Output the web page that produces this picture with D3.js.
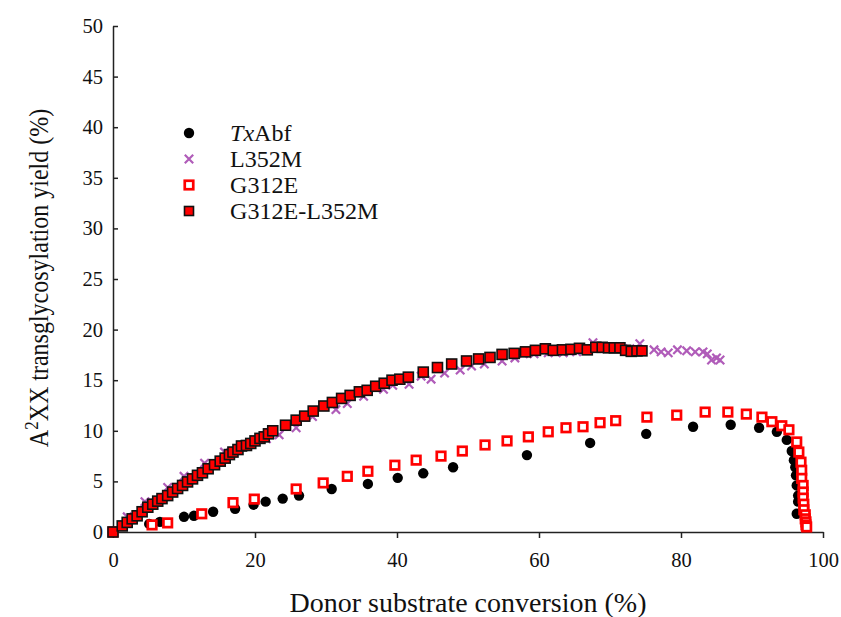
<!DOCTYPE html>
<html><head><meta charset="utf-8">
<script src="https://cdn.jsdelivr.net/npm/d3@7"></script>
<style>body{margin:0;background:#fff}svg{display:block}text{font-family:"Liberation Serif","Times New Roman",serif;fill:#111}</style>
</head><body>
<svg id="c" width="841" height="617"></svg>
<script>
const xTicks = [0,20,40,60,80,100];
const yTicks = [0,5,10,15,20,25,30,35,40,45,50];
const seriesNames = ["TxAbf","L352M","G312E","G312E-L352M"];

const txAbf = [[0,0],[5.1,0.8],[6.6,1.0],[10.0,1.5],[11.4,1.6],[14.1,2.0],[17.2,2.3],[19.8,2.7],[21.5,3.0],[23.9,3.3],[26.2,3.6],[30.8,4.25],[35.9,4.75],[40.1,5.35],[43.7,5.8],[47.9,6.4],[58.3,7.6],[67.2,8.8],[75.1,9.7],[81.7,10.4],[87.0,10.6],[91.0,10.3],[93.5,9.9],[94.9,9.1],[95.6,8.0],[95.9,7.1],[96.1,6.4],[96.2,5.6],[96.3,4.6],[96.5,3.6],[96.5,3.0],[96.3,1.8]];

const l352m = [[0,0],[2.0,1.5],[4.5,3.0],[7.7,4.4],[10.0,5.5],[12.9,6.8],[15.7,7.9],[18.5,8.6],[21.6,9.2],[23.4,9.6],[25.8,10.3],[28.1,11.4],[31.4,12.1],[33.0,12.7],[35.3,13.4],[38.1,14.1],[39.4,14.5],[41.7,14.6],[43.4,15.4],[44.8,15.1],[46.7,15.7],[48.9,16.0],[50.5,16.4],[52.3,16.6],[54.8,16.9],[56.6,17.2],[57.8,17.6],[59.3,17.6],[61.3,17.7],[63.4,17.7],[65.3,17.8],[67.6,18.7],[69.5,18.1],[71.4,18.3],[72.8,18.1],[74.2,18.6],[76.2,18.0],[77.2,17.8],[78.2,17.7],[79.5,18.0],[80.8,17.9],[82.0,17.8],[83.1,17.8],[83.7,17.6],[84.3,17.0],[85.0,17.2],[85.5,17.0]];

const g312e = [[0,0],[5.5,0.7],[7.7,0.9],[12.5,1.8],[16.9,2.9],[19.9,3.25],[25.8,4.25],[29.6,4.85],[33.0,5.5],[35.9,6.0],[39.7,6.6],[42.7,7.1],[46.2,7.5],[49.2,8.0],[52.4,8.6],[55.5,9.0],[58.5,9.4],[61.3,9.9],[63.8,10.3],[66.2,10.4],[68.6,10.8],[70.8,11.0],[75.2,11.35],[79.4,11.55],[83.4,11.85],[86.6,11.85],[89.2,11.65],[91.4,11.35],[92.8,10.9],[94.2,10.5],[95.2,10.1],[96.3,8.9],[96.6,7.9],[96.9,6.9],[97.0,6.1],[97.0,5.3],[97.2,4.6],[97.2,3.95],[97.2,3.35],[97.3,2.75],[97.3,2.2],[97.5,1.7],[97.5,1.3],[97.6,1.0],[97.6,0.7],[97.7,0.5]];

const g312eL352m = [[0,0],[1.3,0.6],[2.0,0.95],[2.7,1.3],[3.4,1.6],[4.1,2.0],[4.9,2.45],[5.6,2.75],[6.3,3.05],[6.9,3.3],[7.7,3.6],[8.4,3.95],[9.1,4.3],[9.8,4.6],[10.5,4.95],[11.2,5.25],[11.9,5.6],[12.6,5.85],[13.4,6.25],[14.3,6.65],[15.1,7.0],[15.8,7.3],[16.4,7.65],[16.9,7.9],[17.6,8.15],[18.1,8.5],[18.8,8.55],[19.4,8.75],[20.0,9.0],[20.7,9.25],[21.3,9.4],[21.9,9.7],[22.5,10.0],[24.3,10.55],[25.8,11.05],[27.0,11.45],[28.2,11.95],[29.7,12.45],[30.9,12.8],[32.2,13.2],[33.4,13.5],[34.7,13.85],[35.8,14.0],[37.0,14.4],[38.2,14.7],[39.3,15.0],[40.4,15.1],[41.6,15.3],[43.7,15.8],[45.7,16.25],[47.7,16.6],[49.8,16.9],[51.5,17.1],[53.1,17.25],[54.8,17.55],[56.5,17.65],[58.1,17.8],[59.5,17.95],[60.9,18.1],[62.0,17.95],[63.3,18.0],[64.5,18.05],[65.7,18.15],[66.8,18.0],[68.0,18.25],[68.9,18.25],[69.8,18.2],[70.6,18.2],[71.4,18.2],[72.2,17.95],[73.0,17.85],[73.8,17.9],[74.5,17.9]];

const svg = d3.select("#c");
const x = d3.scaleLinear().domain([0,100]).range([113,823]);
const y = d3.scaleLinear().domain([0,50]).range([532,26]);
const axisColor = "#222";

// X axis
const gx = svg.append("g").attr("transform","translate(0,532)")
  .call(d3.axisBottom(x).tickValues(xTicks).tickSize(6).tickSizeOuter(0).tickPadding(14));
gx.select(".domain").attr("stroke",axisColor).attr("stroke-width",1.5);
gx.selectAll(".tick line").attr("stroke",axisColor).attr("stroke-width",1.5);
gx.selectAll(".tick text").attr("font-size",20.5).attr("font-family","Liberation Serif").attr("fill","#111");

// Y axis (ticks inside)
const gy = svg.append("g").attr("transform","translate(113,0)")
  .call(d3.axisLeft(y).tickValues(yTicks).tickSize(-5).tickSizeOuter(0).tickPadding(10));
gy.select(".domain").attr("stroke",axisColor).attr("stroke-width",1.5);
gy.selectAll(".tick line").attr("stroke",axisColor).attr("stroke-width",1.5);
gy.selectAll(".tick text").attr("font-size",20.5).attr("font-family","Liberation Serif").attr("fill","#111");

// Titles
svg.append("text").attr("transform","translate(468,612)").attr("text-anchor","middle")
  .attr("font-size",28).text("Donor substrate conversion (%)");
const yt = svg.append("text").attr("transform","translate(48,278) scale(1.15,1) rotate(-90)")
  .attr("text-anchor","middle").attr("font-size",24);
yt.append("tspan").text("A");
yt.append("tspan").attr("dy",-9).attr("font-size",17).text("2");
yt.append("tspan").attr("dy",9).text("XX transglycosylation yield (%)");

// Marker drawers
function dots(g, data){
  g.selectAll("circle").data(data).join("circle")
   .attr("cx",d=>x(d[0])).attr("cy",d=>y(d[1])).attr("r",5.2).attr("fill","#000");
}
function crosses(g, data){
  const s=4.2;
  g.selectAll("path").data(data).join("path")
   .attr("d",d=>{const cx=x(d[0]),cy=y(d[1]);return `M${cx-s},${cy-s}L${cx+s},${cy+s}M${cx-s},${cy+s}L${cx+s},${cy-s}`;})
   .attr("stroke","#b05cb9").attr("stroke-width",2.2).attr("fill","none");
}
function hollow(g, data){
  const s=8.5;
  g.selectAll("rect").data(data).join("rect")
   .attr("x",d=>x(d[0])-s/2).attr("y",d=>y(d[1])-s/2).attr("width",s).attr("height",s)
   .attr("fill","#fff").attr("stroke","#ff0000").attr("stroke-width",2.7);
}
function filled(g, data){
  const s=10;
  g.selectAll("rect").data(data).join("rect")
   .attr("x",d=>x(d[0])-s/2).attr("y",d=>y(d[1])-s/2).attr("width",s).attr("height",s)
   .attr("fill","#ff0000").attr("stroke","#111").attr("stroke-width",1.6);
}

dots(svg.append("g"), txAbf);
crosses(svg.append("g"), l352m);
hollow(svg.append("g"), g312e);
filled(svg.append("g"), g312eL352m);

// Legend
const legY = [133,159,185,211];
const lg = svg.append("g");
lg.append("circle").attr("cx",189).attr("cy",legY[0]).attr("r",5.2).attr("fill","#000");
const s=4.2;
lg.append("path").attr("d",`M${189-s},${legY[1]-s}L${189+s},${legY[1]+s}M${189-s},${legY[1]+s}L${189+s},${legY[1]-s}`)
  .attr("stroke","#b05cb9").attr("stroke-width",2.2);
lg.append("rect").attr("x",184.75).attr("y",legY[2]-4.25).attr("width",8.5).attr("height",8.5)
  .attr("fill","#fff").attr("stroke","#ff0000").attr("stroke-width",2.7);
lg.append("rect").attr("x",184.5).attr("y",legY[3]-4.5).attr("width",9).attr("height",9)
  .attr("fill","#ff0000").attr("stroke","#111").attr("stroke-width",1.6);
seriesNames.forEach((n,i)=>{
  const t = lg.append("text").attr("transform",`translate(230,${legY[i]+8}) scale(1.07,1)`).attr("font-size",22.5);
  if(n==="TxAbf"){ t.append("tspan").attr("font-style","italic").text("Tx"); t.append("tspan").text("Abf"); }
  else t.text(n);
});
</script>
</body></html>
